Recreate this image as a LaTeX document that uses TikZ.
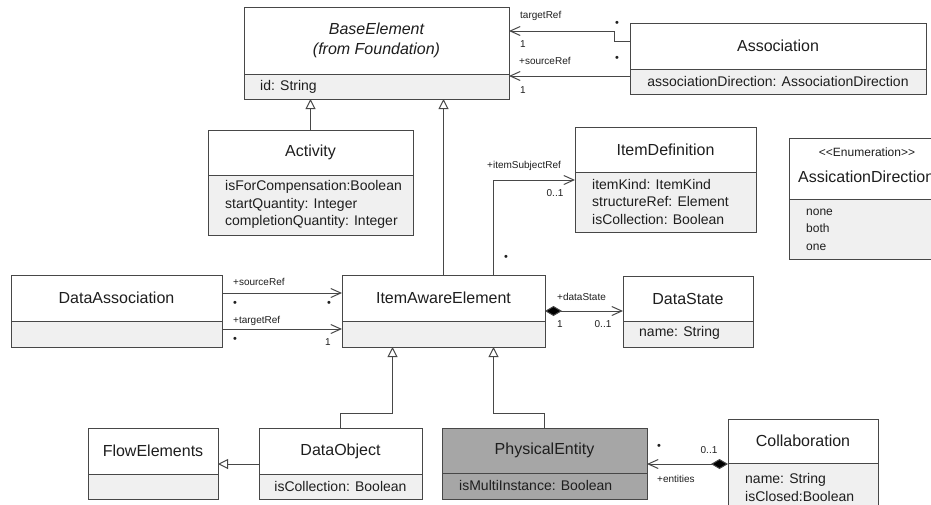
\documentclass[tikz,border=0pt]{standalone}
\usepackage{fontspec}
\setmainfont{Liberation Sans}
\usetikzlibrary{arrows.meta}

\definecolor{linec}{HTML}{474747}
\definecolor{compfill}{HTML}{F0F0F0}
\definecolor{txt}{HTML}{1E1E1E}
\definecolor{physfill}{HTML}{A6A6A6}

\tikzset{
  hdr/.style={draw=linec, line width=1pt, fill=white, anchor=north west,
    inner sep=0pt, outer sep=0pt, align=center, text=txt,
    font=\fontsize{16}{20}\selectfont},
  cmp/.style={draw=linec, line width=1pt, fill=compfill, anchor=north west,
    inner sep=0pt, outer sep=0pt},
  attr/.style={anchor=west, inner sep=0pt, align=left, text=txt,
    font=\fontsize{14}{17.5}\selectfont},
  small/.style={inner sep=0pt, align=left, text=txt,
    font=\fontsize{12}{17.5}\selectfont},
  role/.style={inner sep=0pt, text=txt, font=\fontsize{10}{12}\selectfont},
  many/.style={inner sep=0pt, text=txt, font=\fontsize{11}{12}\selectfont},
  gen/.style={draw=linec, line width=1pt,
    -{Triangle[open, length=10pt, width=10pt]}},
  nav/.style={draw=linec, line width=1pt,
    -{Straight Barb[length=10pt, width=9pt]}},
  compo/.style={draw=linec, line width=1pt,
    {Diamond[length=17pt, width=10pt, fill=black]}-{Straight Barb[length=10pt, width=9pt]}},
}

\begin{document}
\begin{tikzpicture}[x=1pt, y=-1pt]
\useasboundingbox (0,0) rectangle (931,504);
\clip (0,0) rectangle (931,504);

% ---------- classes ----------
\node[hdr, minimum width=265pt, minimum height=67pt] (base) at (244,7)
  {\itshape BaseElement\\\itshape (from Foundation)};
\node[cmp, minimum width=265pt, minimum height=25pt] (basecmp) at (244,74) {};
\node[attr] (baseattr) at (260,87) {id: String};

\node[hdr, minimum width=296pt, minimum height=46pt] (assoc) at (630,23) {Association};
\node[cmp, minimum width=296pt, minimum height=25pt] (assoccmp) at (630,69) {};
\node[attr, anchor=center] (assocattr) at (778,81.5)
  {associationDirection: AssociationDirection};

\node[hdr, minimum width=205pt, minimum height=45pt] (act) at (208,130) {Activity};
\node[cmp, minimum width=205pt, minimum height=60pt] (actcmp) at (208,175) {};
\node[attr] (actattr) at (225,204.5)
  {isForCompensation:Boolean\\startQuantity: Integer\\completionQuantity: Integer};

\node[hdr, minimum width=181pt, minimum height=45pt] (itemdef) at (575,127) {ItemDefinition};
\node[cmp, minimum width=181pt, minimum height=60pt] (idcmp) at (575,172) {};
\node[attr] (idattr) at (592,201.5)
  {itemKind: ItemKind\\structureRef: Element\\isCollection: Boolean};

\node[hdr, minimum width=181pt, minimum height=61pt] (enum) at (789,138) {};
\node[cmp, minimum width=181pt, minimum height=60pt] (enumcmp) at (789,199) {};
\node[small, anchor=center] (enumst) at (867,152)
  {\textless\kern0pt\textless Enumeration\textgreater\kern0pt\textgreater};
\node[inner sep=0pt, anchor=west, text=txt, font=\fontsize{16}{20}\selectfont]
  (enumname) at (798,177) {AssicationDirection};
\node[small, anchor=west] (enumattr) at (806,229.5) {none\\both\\one};

\node[hdr, minimum width=211pt, minimum height=46pt] (da) at (11,275) {DataAssociation};
\node[cmp, minimum width=211pt, minimum height=26pt] (dacmp) at (11,321) {};

\node[hdr, minimum width=203pt, minimum height=46pt] (iae) at (342,275) {ItemAwareElement};
\node[cmp, minimum width=203pt, minimum height=26pt] (iaecmp) at (342,321) {};

\node[hdr, minimum width=130pt, minimum height=45pt] (ds) at (623,276) {DataState};
\node[cmp, minimum width=130pt, minimum height=26pt] (dscmp) at (623,321) {};
\node[attr] (dsattr) at (639,333) {name: String};

\node[hdr, minimum width=130pt, minimum height=46pt] (flow) at (88,428) {FlowElements};
\node[cmp, minimum width=130pt, minimum height=25pt] (flowcmp) at (88,474) {};

\node[hdr, minimum width=163pt, minimum height=46pt] (dobj) at (259,428) {DataObject};
\node[cmp, minimum width=163pt, minimum height=25pt] (dobjcmp) at (259,474) {};
\node[attr, anchor=center] (dobjattr) at (340.5,486) {isCollection: Boolean};

\node[hdr, fill=physfill, minimum width=205pt, minimum height=45pt] (phys) at (442,428) {PhysicalEntity};
\node[cmp, fill=physfill, minimum width=205pt, minimum height=26pt] (physcmp) at (442,473) {};
\node[attr] (physattr) at (459,485.5) {isMultiInstance: Boolean};

\node[hdr, minimum width=150pt, minimum height=44pt] (collab) at (728,419) {Collaboration};
\node[cmp, minimum width=150pt, minimum height=50pt] (collabcmp) at (728,463) {};
\node[attr] (collabattr) at (745,487.5) {name: String\\isClosed:Boolean};

% ---------- generalizations ----------
\draw[gen] (act.north) -- (act.north |- basecmp.south);
\draw[gen] (iae.north) -- (iae.north |- basecmp.south);
\draw[gen] (dobj.north) -- ++(0,-15) -| ([xshift=-51pt]iaecmp.south);
\draw[gen] (phys.north) -- ++(0,-15) -| ([xshift=50pt]iaecmp.south);
\coordinate (dobjL) at ([yshift=-13pt]dobj.west);
\draw[gen] (dobjL) -- (dobjL -| flow.east);

% ---------- associations ----------
\draw[nav] ([yshift=-18pt]assoc.north west) -- ++(-16,0)
  |- ([yshift=-24pt]base.north east);
\coordinate (assocS) at ([yshift=-7pt]assoccmp.north west);
\draw[nav] (assocS) -- (assocS -| basecmp.east);

\draw[nav] ([xshift=50pt]iae.north) |- ([yshift=-8pt]idcmp.north west);

\coordinate (daS) at ([yshift=-18pt]da.north east);
\draw[nav] (daS) -- (daS -| iae.west);
\coordinate (daT) at ([yshift=-8pt]dacmp.north east);
\draw[nav] (daT) -- (daT -| iaecmp.west);

\coordinate (iaeD) at ([yshift=10pt]iae.south east);
\draw[compo] (iaeD) -- (iaeD -| ds.west);

\coordinate (collabE) at ([yshift=-1pt]collab.south west);
\draw[compo] (collabE) -- (collabE -| phys.east);

% ---------- role names and multiplicities ----------
\node[role, anchor=west] (lTarget) at (520,16) {targetRef};
\node[role, anchor=west] (lT1) at (520,44) {1};
\node[many] (lTs) at (617,24) {•};
\node[role, anchor=west] (lSource) at (519,61) {+sourceRef};
\node[role, anchor=west] (lS1) at (520,90) {1};
\node[many] (lSs) at (617,59) {•};

\node[role, anchor=west] (lSubj) at (487,166) {+itemSubjectRef};
\node[role] (lSubjM) at (555,193) {0..1};
\node[many] (lSubjS) at (506,258) {•};

\node[role, anchor=west] (lDaS) at (233,282) {+sourceRef};
\node[many] (lDaS1) at (235,304) {•};
\node[many] (lDaS2) at (329,304) {•};
\node[role, anchor=west] (lDaT) at (233,321) {+targetRef};
\node[many] (lDaT1) at (235,340) {•};
\node[role] (lDaT2) at (328,342) {1};

\node[role, anchor=west] (lDs) at (557,297) {+dataState};
\node[role] (lDs1) at (560,324) {1};
\node[role] (lDs2) at (603,324) {0..1};

\node[many] (lEnt1) at (659,447) {•};
\node[role] (lEnt2) at (709,450) {0..1};
\node[role, anchor=west] (lEnt) at (657,479) {+entities};
\end{tikzpicture}
\end{document}
